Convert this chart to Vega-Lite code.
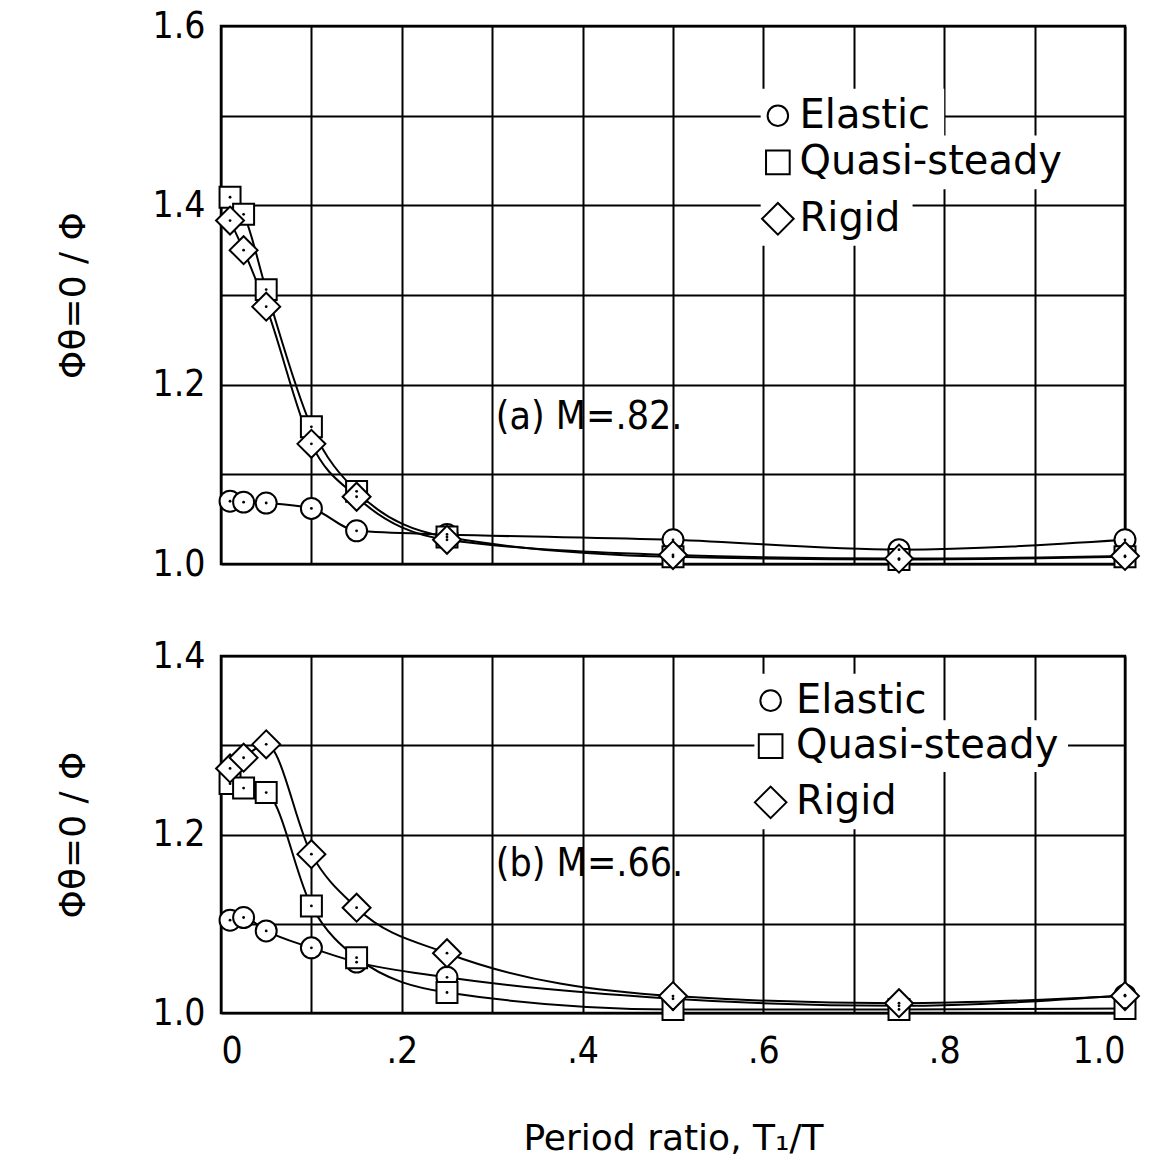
{
  "$schema": "https://vega.github.io/schema/vega-lite/v6.json",
  "background": "white",
  "padding": {"left": 53, "top": 5, "right": 25, "bottom": 5},
  "bounds": "flush",
  "spacing": 92,
  "config": {
    "font": "DejaVu Sans Condensed",
    "view": {"stroke": "black", "strokeWidth": 2.5},
    "axis": {
      "grid": true, "gridColor": "black", "gridOpacity": 1, "gridWidth": 2,
      "domain": false, "ticks": false,
      "labelFont": "DejaVu Sans Condensed", "labelFontSize": 37, "labelColor": "black",
      "titleFont": "DejaVu Sans", "titleFontSize": 36, "titleFontWeight": "normal", "titleColor": "black"
    }
  },
  "datasets": {
    "a": [
      {"s": "Elastic", "x": 0.01, "y": 1.070},
      {"s": "Elastic", "x": 0.025, "y": 1.069},
      {"s": "Elastic", "x": 0.05, "y": 1.068},
      {"s": "Elastic", "x": 0.10, "y": 1.062},
      {"s": "Elastic", "x": 0.15, "y": 1.037},
      {"s": "Elastic", "x": 0.25, "y": 1.033},
      {"s": "Elastic", "x": 0.5, "y": 1.027},
      {"s": "Elastic", "x": 0.75, "y": 1.016},
      {"s": "Elastic", "x": 1.0, "y": 1.027},
      {"s": "Quasi-steady", "x": 0.01, "y": 1.409},
      {"s": "Quasi-steady", "x": 0.025, "y": 1.390},
      {"s": "Quasi-steady", "x": 0.05, "y": 1.306},
      {"s": "Quasi-steady", "x": 0.10, "y": 1.153},
      {"s": "Quasi-steady", "x": 0.15, "y": 1.081},
      {"s": "Quasi-steady", "x": 0.25, "y": 1.030},
      {"s": "Quasi-steady", "x": 0.5, "y": 1.008},
      {"s": "Quasi-steady", "x": 0.75, "y": 1.005},
      {"s": "Quasi-steady", "x": 1.0, "y": 1.008},
      {"s": "Rigid", "x": 0.01, "y": 1.383},
      {"s": "Rigid", "x": 0.025, "y": 1.350},
      {"s": "Rigid", "x": 0.05, "y": 1.287},
      {"s": "Rigid", "x": 0.10, "y": 1.134},
      {"s": "Rigid", "x": 0.15, "y": 1.075},
      {"s": "Rigid", "x": 0.25, "y": 1.027},
      {"s": "Rigid", "x": 0.5, "y": 1.010},
      {"s": "Rigid", "x": 0.75, "y": 1.006},
      {"s": "Rigid", "x": 1.0, "y": 1.009}
    ],
    "b": [
      {"s": "Elastic", "x": 0.01, "y": 1.104},
      {"s": "Elastic", "x": 0.025, "y": 1.107},
      {"s": "Elastic", "x": 0.05, "y": 1.092},
      {"s": "Elastic", "x": 0.10, "y": 1.073},
      {"s": "Elastic", "x": 0.15, "y": 1.057},
      {"s": "Elastic", "x": 0.25, "y": 1.040},
      {"s": "Elastic", "x": 0.5, "y": 1.016},
      {"s": "Elastic", "x": 0.75, "y": 1.008},
      {"s": "Elastic", "x": 1.0, "y": 1.020},
      {"s": "Quasi-steady", "x": 0.01, "y": 1.257},
      {"s": "Quasi-steady", "x": 0.025, "y": 1.252},
      {"s": "Quasi-steady", "x": 0.05, "y": 1.247},
      {"s": "Quasi-steady", "x": 0.10, "y": 1.120},
      {"s": "Quasi-steady", "x": 0.15, "y": 1.062},
      {"s": "Quasi-steady", "x": 0.25, "y": 1.023},
      {"s": "Quasi-steady", "x": 0.5, "y": 1.004},
      {"s": "Quasi-steady", "x": 0.75, "y": 1.004},
      {"s": "Quasi-steady", "x": 1.0, "y": 1.005},
      {"s": "Rigid", "x": 0.01, "y": 1.274},
      {"s": "Rigid", "x": 0.025, "y": 1.286},
      {"s": "Rigid", "x": 0.05, "y": 1.301},
      {"s": "Rigid", "x": 0.10, "y": 1.178},
      {"s": "Rigid", "x": 0.15, "y": 1.118},
      {"s": "Rigid", "x": 0.25, "y": 1.067},
      {"s": "Rigid", "x": 0.5, "y": 1.019},
      {"s": "Rigid", "x": 0.75, "y": 1.011},
      {"s": "Rigid", "x": 1.0, "y": 1.019}
    ],
    "keyA": [
      {"s": "Elastic", "x": 0.616, "tx": 0.64, "y": 1.5, "bx": 0.597, "bx2": 0.8, "by": 1.472, "by2": 1.53},
      {"s": "Quasi-steady", "x": 0.616, "tx": 0.64, "y": 1.448, "bx": 0.597, "bx2": 0.94, "by": 1.418, "by2": 1.478},
      {"s": "Rigid", "x": 0.616, "tx": 0.64, "y": 1.385, "bx": 0.597, "bx2": 0.765, "by": 1.355, "by2": 1.422}
    ],
    "keyB": [
      {"s": "Elastic", "x": 0.608, "tx": 0.636, "y": 1.35, "bx": 0.59, "bx2": 0.797, "by": 1.322, "by2": 1.38},
      {"s": "Quasi-steady", "x": 0.608, "tx": 0.636, "y": 1.299, "bx": 0.59, "bx2": 0.937, "by": 1.27, "by2": 1.328},
      {"s": "Rigid", "x": 0.608, "tx": 0.636, "y": 1.236, "bx": 0.59, "bx2": 0.762, "by": 1.206, "by2": 1.273}
    ]
  },
  "vconcat": [
    {
      "width": 904,
      "height": 538,
      "encoding": {
        "x": {"field": "x", "type": "quantitative",
              "scale": {"domain": [0, 1], "nice": false},
              "axis": {"values": [0, 0.1, 0.2, 0.3, 0.4, 0.5, 0.6, 0.7, 0.8, 0.9, 1.0], "labels": false, "title": null}},
        "y": {"field": "y", "type": "quantitative",
              "scale": {"domain": [1.0, 1.6], "nice": false, "zero": false},
              "axis": {"values": [1.0, 1.1, 1.2, 1.3, 1.4, 1.5, 1.6],
                       "labelExpr": "round(datum.value*10) % 2 == 0 ? format(datum.value, '.1f') : ''",
                       "labelPadding": 16, "title": "Φθ=0 / Φ", "titlePadding": 60}}
      },
      "layer": [
        {"data": {"name": "a"},
         "mark": {"type": "line", "interpolate": "monotone", "color": "black", "strokeWidth": 2},
         "encoding": {"detail": {"field": "s"}}},
        {"data": {"name": "a"},
         "mark": {"type": "point", "filled": true, "fill": "white", "stroke": "black", "strokeWidth": 2, "opacity": 1},
         "encoding": {
           "shape": {"field": "s", "type": "nominal",
                     "scale": {"domain": ["Elastic", "Quasi-steady", "Rigid"], "range": ["circle", "square", "diamond"]},
                     "legend": null},
           "size": {"condition": {"test": "datum.s == 'Rigid'", "value": 780}, "value": 440}
         }},
        {"data": {"name": "a"},
         "mark": {"type": "point", "filled": true, "color": "black", "size": 8, "opacity": 1}},
        {"data": {"name": "keyA"},
         "mark": {"type": "rect", "color": "white", "opacity": 1},
         "encoding": {"x": {"field": "bx", "type": "quantitative"}, "x2": {"field": "bx2"},
                      "y": {"field": "by", "type": "quantitative"}, "y2": {"field": "by2"}}},
        {"data": {"name": "keyA"},
         "mark": {"type": "point", "filled": true, "fill": "white", "stroke": "black", "strokeWidth": 2, "opacity": 1},
         "encoding": {
           "shape": {"field": "s", "type": "nominal", "legend": null},
           "size": {"condition": [{"test": "datum.s == 'Rigid'", "value": 1000}, {"test": "datum.s == 'Quasi-steady'", "value": 560}], "value": 420}
         }},
        {"data": {"name": "keyA"},
         "mark": {"type": "text", "align": "left", "baseline": "middle", "fontSize": 40, "color": "black", "font": "DejaVu Sans"},
         "encoding": {"x": {"field": "tx", "type": "quantitative"}, "text": {"field": "s"}}},
        {"data": {"values": [{"x": 0.304, "y": 1.164, "label": "(a) M=.82."}]},
         "mark": {"type": "text", "align": "left", "baseline": "middle", "fontSize": 39, "color": "black", "font": "DejaVu Sans Condensed"},
         "encoding": {"text": {"field": "label"}}}
      ]
    },
    {
      "width": 904,
      "height": 357,
      "encoding": {
        "x": {"field": "x", "type": "quantitative",
              "scale": {"domain": [0, 1], "nice": false},
              "axis": {"values": [0, 0.1, 0.2, 0.3, 0.4, 0.5, 0.6, 0.7, 0.8, 0.9, 1.0],
                       "labelExpr": "round(datum.value*10) % 2 == 0 ? (datum.value == 0 ? '0' : datum.value >= 1 ? '1.0' : '.' + round(datum.value*10)) : ''",
                       "labelPadding": 20, "title": "Period ratio, T₁/T", "titlePadding": 52}},
        "y": {"field": "y", "type": "quantitative",
              "scale": {"domain": [1.0, 1.4], "nice": false, "zero": false},
              "axis": {"values": [1.0, 1.1, 1.2, 1.3, 1.4],
                       "labelExpr": "round(datum.value*10) % 2 == 0 ? format(datum.value, '.1f') : ''",
                       "labelPadding": 16, "title": "Φθ=0 / Φ", "titlePadding": 60}}
      },
      "layer": [
        {"data": {"name": "b"},
         "mark": {"type": "line", "interpolate": "monotone", "color": "black", "strokeWidth": 2},
         "encoding": {"detail": {"field": "s"}}},
        {"data": {"name": "b"},
         "mark": {"type": "point", "filled": true, "fill": "white", "stroke": "black", "strokeWidth": 2, "opacity": 1},
         "encoding": {
           "shape": {"field": "s", "type": "nominal",
                     "scale": {"domain": ["Elastic", "Quasi-steady", "Rigid"], "range": ["circle", "square", "diamond"]},
                     "legend": null},
           "size": {"condition": {"test": "datum.s == 'Rigid'", "value": 780}, "value": 440}
         }},
        {"data": {"name": "b"},
         "mark": {"type": "point", "filled": true, "color": "black", "size": 8, "opacity": 1}},
        {"data": {"name": "keyB"},
         "mark": {"type": "rect", "color": "white", "opacity": 1},
         "encoding": {"x": {"field": "bx", "type": "quantitative"}, "x2": {"field": "bx2"},
                      "y": {"field": "by", "type": "quantitative"}, "y2": {"field": "by2"}}},
        {"data": {"name": "keyB"},
         "mark": {"type": "point", "filled": true, "fill": "white", "stroke": "black", "strokeWidth": 2, "opacity": 1},
         "encoding": {
           "shape": {"field": "s", "type": "nominal", "legend": null},
           "size": {"condition": [{"test": "datum.s == 'Rigid'", "value": 1000}, {"test": "datum.s == 'Quasi-steady'", "value": 560}], "value": 420}
         }},
        {"data": {"name": "keyB"},
         "mark": {"type": "text", "align": "left", "baseline": "middle", "fontSize": 40, "color": "black", "font": "DejaVu Sans"},
         "encoding": {"x": {"field": "tx", "type": "quantitative"}, "text": {"field": "s"}}},
        {"data": {"values": [{"x": 0.304, "y": 1.167, "label": "(b) M=.66."}]},
         "mark": {"type": "text", "align": "left", "baseline": "middle", "fontSize": 39, "color": "black", "font": "DejaVu Sans Condensed"},
         "encoding": {"text": {"field": "label"}}}
      ]
    }
  ]
}
